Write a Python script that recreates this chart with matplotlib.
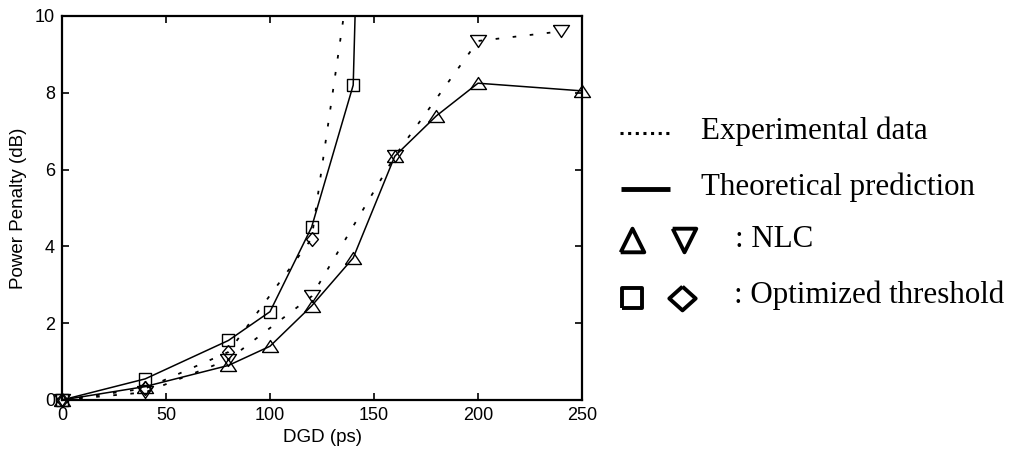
import numpy as np
import matplotlib.pyplot as plt

# Power penalty versus DGD for the two receiver schemes
nlc_theory_dgd = [0, 40, 80, 100, 120, 140, 160, 180, 200, 250]
nlc_theory_pp = [0, 0.35, 0.9, 1.4, 2.45, 3.7, 6.35, 7.4, 8.25, 8.05]

nlc_exp_dgd = [0, 40, 80, 120, 160, 200, 240]
nlc_exp_pp = [0, 0.2, 1.05, 2.7, 6.35, 9.35, 9.6]

opt_theory_dgd = [0, 40, 80, 100, 120, 140, 142]
opt_theory_pp = [0, 0.55, 1.55, 2.3, 4.5, 8.2, 12.2]

opt_exp_dgd = [0, 40, 80, 120, 140]
opt_exp_pp = [0, 0.3, 1.25, 4.2, 11.7]

x_ticks = [0, 50, 100, 150, 200, 250]
y_ticks = [0, 2, 4, 6, 8, 10]

# marker outlines (custom paths so the proportions are easy to control)
tri_up = [(-1, -0.75), (1, -0.75), (0, 0.75), (-1, -0.75)]
tri_down = [(-1, 0.75), (1, 0.75), (0, -0.75), (-1, 0.75)]
key_up = [(-1, -1), (1, -1), (0, 1), (-1, -1)]
key_down = [(-1, 1), (1, 1), (0, -1), (-1, 1)]
box = [(-1, -1), (1, -1), (1, 1), (-1, 1), (-1, -1)]
diamond = [(0, 1), (0.85, 0), (0, -1), (-0.85, 0), (0, 1)]
key_diamond = [(0, 0.9), (1, 0), (0, -0.9), (-1, 0), (0, 0.9)]

plt.rcParams['font.family'] = ['Liberation Sans', 'DejaVu Sans']

fig = plt.figure(figsize=(10.1, 4.53), dpi=100)
ax = fig.add_axes([62 / 1010, 1 - 400 / 453, 520 / 1010, 384 / 453])

dotted = dict(color='black', lw=1.3, dashes=(2, 7.5), dash_capstyle='butt')
solid = dict(color='black', lw=1.1)


def draw(dgd, pp, style, marker, size):
    dgd = np.asarray(dgd, dtype=float)
    pp = np.asarray(pp, dtype=float)
    ax.plot(dgd, pp, **style)
    shown = pp <= 10
    ax.plot(dgd[shown], pp[shown], ls='none', marker=marker, ms=size,
            mfc='none', mec='black', mew=1.0, clip_on=False, zorder=3)


draw(nlc_exp_dgd, nlc_exp_pp, dotted, tri_down, 11.5)
draw(opt_exp_dgd, opt_exp_pp, dotted, diamond, 10)
draw(nlc_theory_dgd, nlc_theory_pp, solid, tri_up, 11.5)
draw(opt_theory_dgd, opt_theory_pp, solid, box, 8.5)

ax.set_xlim(0, 250)
ax.set_ylim(0, 10)
ax.set_xticks(x_ticks)
ax.set_yticks(y_ticks)
ax.tick_params(direction='in', length=5, width=1.2, top=True, right=True,
               labelsize=13, pad=5)
for side in ax.spines.values():
    side.set_linewidth(1.6)
ax.set_xlabel('DGD (ps)', fontsize=13.5, labelpad=4)
ax.set_ylabel('Power Penalty (dB)', fontsize=13.5, labelpad=6)

# hand-made key on the right, laid out in pixel units
key = fig.add_axes([0, 0, 1, 1])
key.set_xlim(0, 1010)
key.set_ylim(453, 0)
key.axis('off')

serif = dict(family=['Liberation Serif', 'DejaVu Serif'], fontsize=22.3,
             va='baseline', ha='left')
key.plot([620, 670], [133, 133], color='black', lw=2.2, dashes=(1, 1.5),
         dash_capstyle='butt')
key.text(701, 139, 'Experimental data', **serif)
key.plot([621, 670], [189, 189], color='black', lw=3.5, solid_capstyle='butt')
key.text(701, 195, 'Theoretical prediction', **serif)

mk = dict(ls='none', mfc='none', mec='black', mew=2.8)
key.plot([632], [240], marker=key_up, ms=17, **mk)
key.plot([684], [240], marker=key_down, ms=17, **mk)
key.text(735, 247, ': NLC', **serif)
key.plot([632], [298], marker=box, ms=14, **mk)
key.plot([682], [298], marker=key_diamond, ms=19, **mk)
key.text(734, 303, ': Optimized threshold', **serif)

fig.savefig('out.png', dpi=100, facecolor='white')
